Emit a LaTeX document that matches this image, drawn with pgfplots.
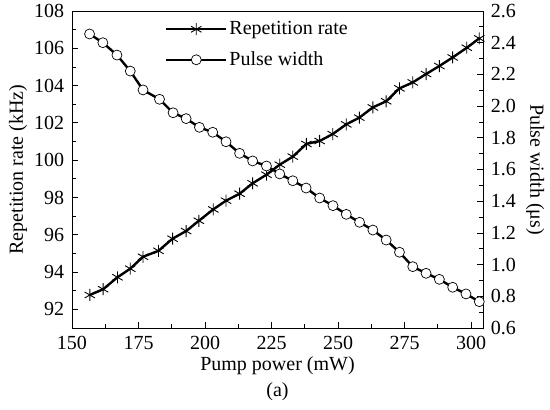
\documentclass[border=0pt]{standalone}
\usepackage{fontspec}
\setmainfont{Liberation Serif}
\usepackage{pgfplots}
\pgfplotsset{compat=1.18}
\begin{document}
\fontsize{20bp}{23bp}\selectfont
\begin{tikzpicture}
\path[use as bounding box] (-72bp,-82bp) rectangle (478bp,328bp);
\pgfplotsset{
  every axis/.append style={
    width=411bp, height=317bp, scale only axis,
    xmin=150, xmax=304.5,
    /pgf/number format/assume math mode=true,
    tick style={black, line width=0.8pt},
    major tick length=6bp, minor tick length=4bp,
    tick align=inside,
    axis line style={line width=0.9pt},
  },
}
\begin{axis}[
  at={(0,0)}, anchor=south west,
  clip mode=individual,
  ymin=91, ymax=108,
  xtick={150,175,...,300},
  minor x tick num=1,
  ytick={92,94,...,108},
  minor y tick num=1,
  xtick pos=bottom, ytick pos=left,
  xticklabel style={yshift=-1bp},
  yticklabel style={xshift=-1bp},
  xlabel={Pump power (mW)},
  xlabel style={at={(axis description cs:0.5,-0.118)}, anchor=center},
  ylabel={Repetition rate (kHz)},
  ylabel style={at={(axis description cs:-0.131,0.5)}, anchor=center},
]
\addplot[black, line width=2.4pt, mark=asterisk, mark size=6bp, mark options={solid, line width=0.9pt}] coordinates {
(156.7,92.77)(161.7,93.08)(167.1,93.72)(171.9,94.18)(176.7,94.82)(182.5,95.14)
(187.8,95.79)(192.9,96.20)(197.7,96.75)(203.1,97.36)(207.9,97.83)(213.0,98.20)
(217.9,98.76)(223.1,99.22)(228.1,99.76)(233.0,100.19)(238.1,100.87)(243.1,101.03)
(248.0,101.40)(253.1,101.92)(258.0,102.28)(263.1,102.83)(268.1,103.16)(273.1,103.85)
(278.1,104.17)(283.1,104.62)(288.1,105.05)(293.1,105.51)(298.4,106.03)(303.1,106.53)
};
\node at (axis description cs:0.5,-0.2) {(a)};
\end{axis}
\begin{axis}[
  at={(0,0)}, anchor=south west,
  ymin=0.6, ymax=2.6,
  axis x line=none,
  axis y line*=right,
  ytick={0.6,0.8,...,2.61},
  yticklabel style={xshift=1bp, /pgf/number format/.cd, fixed, fixed zerofill, precision=1},
  minor y tick num=1,
  ytick pos=right,
  ylabel={Pulse width (μs)},
  ylabel style={at={(axis description cs:1.127,0.5)}, anchor=center, rotate=180},
  legend style={draw=none, fill=none, at={(0.226,0.975)}, anchor=north west,
    row sep=10bp, inner sep=0pt, font=\fontsize{20bp}{23bp}\selectfont},
  legend cell align=left,
]
\addlegendimage{legend image code/.code={
  \draw[black, line width=2.4pt] (0bp,0bp) -- (60bp,0bp);
  \draw[black, mark=asterisk, mark size=6bp, mark options={solid, line width=0.9pt}] plot coordinates {(30bp,0bp)};
}}
\addlegendentry{Repetition rate}
\addlegendimage{legend image code/.code={
  \draw[black, line width=2.4pt] (0bp,0bp) -- (60bp,0bp);
  \draw[black, mark=*, mark size=5bp, mark options={solid, fill=white, draw=black, line width=0.7pt}] plot coordinates {(30bp,0bp)};
}}
\addlegendentry{Pulse width}
\addplot[black, line width=2.4pt, forget plot] coordinates {
(156.6,2.455)(161.6,2.400)(166.9,2.322)(171.9,2.221)(176.7,2.102)(182.9,2.043)
(188.0,1.958)(192.9,1.921)(197.9,1.866)(202.9,1.835)(207.9,1.775)(213.0,1.702)
(217.9,1.654)(223.1,1.622)(228.1,1.572)(233.0,1.529)(238.0,1.483)(243.1,1.420)
(248.1,1.372)(253.1,1.317)(258.1,1.267)(263.1,1.218)(268.1,1.155)(273.1,1.078)
(278.1,0.987)(283.1,0.945)(288.1,0.907)(293.1,0.857)(298.1,0.815)(303.1,0.766)
};
\addplot[black, only marks, mark=*, mark size=5bp, mark options={solid, fill=white, draw=black, line width=0.7pt}, forget plot] coordinates {
(156.6,2.455)(161.6,2.400)(166.9,2.322)(171.9,2.221)(176.7,2.102)(182.9,2.043)
(188.0,1.958)(192.9,1.921)(197.9,1.866)(202.9,1.835)(207.9,1.775)(213.0,1.702)
(217.9,1.654)(223.1,1.622)(228.1,1.572)(233.0,1.529)(238.0,1.483)(243.1,1.420)
(248.1,1.372)(253.1,1.317)(258.1,1.267)(263.1,1.218)(268.1,1.155)(273.1,1.078)
(278.1,0.987)(283.1,0.945)(288.1,0.907)(293.1,0.857)(298.1,0.815)(303.1,0.766)
};
\end{axis}
\end{tikzpicture}
\end{document}
